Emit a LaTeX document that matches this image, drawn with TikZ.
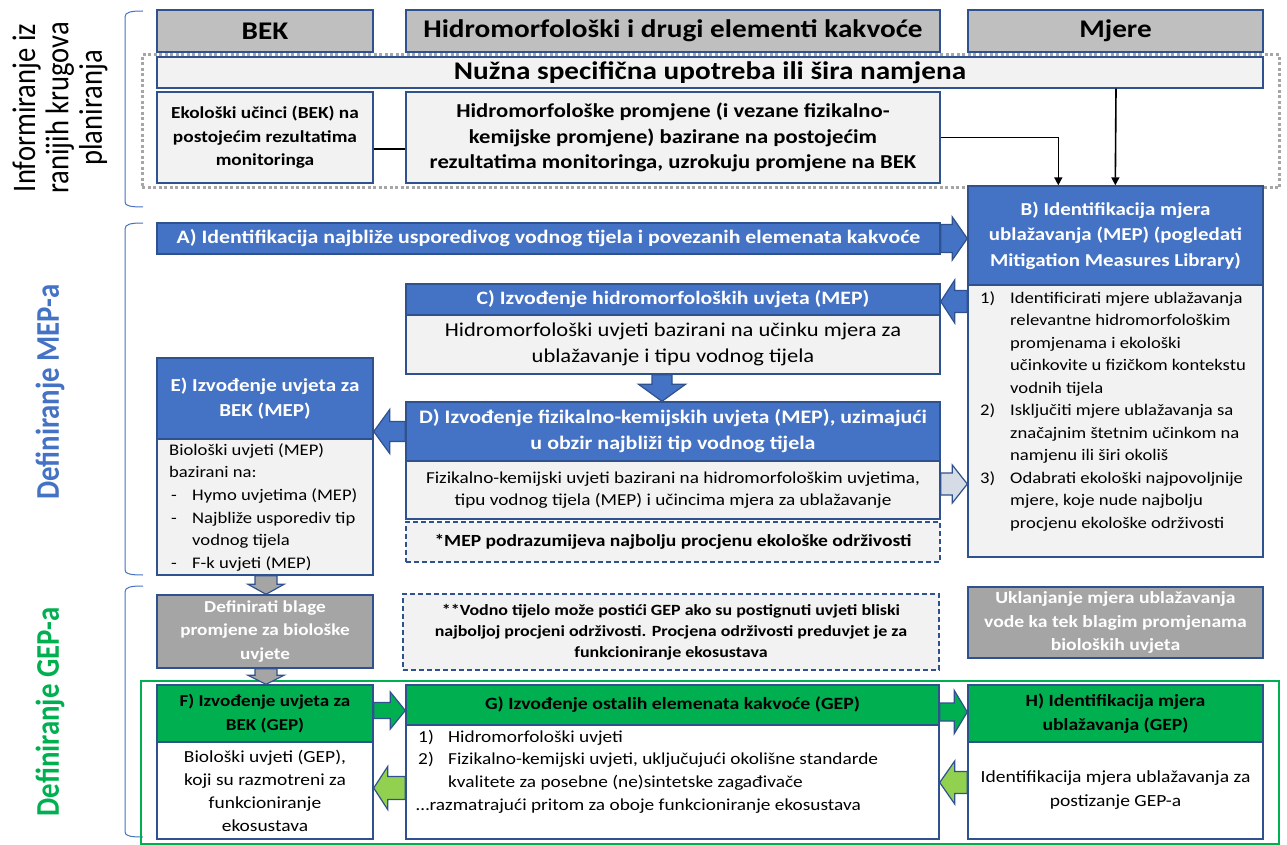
\documentclass[tikz,border=0pt]{standalone}
\usepackage{fontspec}
\setmainfont{Carlito}[FakeStretch=1.15]
\newfontfamily\rotfont{Carlito}
\usetikzlibrary{calc,fit,arrows.meta}
\definecolor{bdr}{HTML}{2F528F}
\definecolor{blu}{HTML}{4472C4}
\definecolor{hgray}{HTML}{BFBFBF}
\definecolor{lgray}{HTML}{F2F2F2}
\definecolor{mgray}{HTML}{A5A5A5}
\definecolor{dgray}{HTML}{A6A6A6}
\definecolor{grn}{HTML}{00B050}
\definecolor{lgrn}{HTML}{92D050}
\definecolor{lblu}{HTML}{D6DCE5}
\newcommand\fz[2]{\fontsize{#1}{#2}\selectfont}
% box from corners: style, x1, y1, x2, y2, name, text
\newcommand\Bx[7]{\node[#1, minimum width={(#4)-(#2)}, minimum height={(#5)-(#3)}] (#6) at ({((#2)+(#4))/2},{((#3)+(#5))/2}) {#7};}
% horizontal block arrow: style, start, end, shaft half, head half, head length
\newcommand\HArr[6]{\path[#1] let \p1=(#2), \p2=(#3), \n1={sign(\x2-\x1)} in
  (\x1,\y1+#4) -- (\x2-\n1*#6,\y1+#4) -- (\x2-\n1*#6,\y1+#5) -- (\x2,\y1)
  -- (\x2-\n1*#6,\y1-#5) -- (\x2-\n1*#6,\y1-#4) -- (\x1,\y1-#4) -- cycle;}
% vertical block arrow
\newcommand\VArr[6]{\path[#1] let \p1=(#2), \p2=(#3), \n1={sign(\y2-\y1)} in
  (\x1+#4,\y1) -- (\x1+#4,\y2-\n1*#6) -- (\x1+#5,\y2-\n1*#6) -- (\x1,\y2)
  -- (\x1-#5,\y2-\n1*#6) -- (\x1-#4,\y2-\n1*#6) -- (\x1-#4,\y1) -- cycle;}
\tikzset{
  bx/.style={draw=bdr, line width=1.4pt, inner sep=0pt, align=center},
  hdr/.style={bx, fill=hgray, font=\fz{25.4}{30}\bfseries},
  lbox/.style={bx, fill=lgray},
  bbox/.style={bx, fill=blu, text=white},
  gbox/.style={bx, fill=mgray, text=white},
  grbox/.style={bx, fill=grn},
  wbox/.style={bx, fill=white},
  dbox/.style={draw=bdr, line width=1.4pt, dash pattern=on 5pt off 3pt, fill=lgray, inner sep=0pt, align=center},
  grp/.style={draw=dgray, line width=3pt, dash pattern=on 3pt off 2.5pt, inner sep=0pt},
  gframe/.style={draw=grn, line width=2pt, inner sep=0pt},
  brk/.style={draw=blu, line width=1pt},
  txt/.style={inner sep=0pt, anchor=base west},
  rlab/.style={rotate=90, yscale=1.15, align=center},
  barr/.style={fill=blu, draw=bdr, line width=1.2pt},
  garr/.style={fill=mgray, draw=bdr, line width=1.2pt},
  lbarr/.style={fill=lblu, draw=bdr, line width=1.2pt},
  grarr/.style={fill=grn, draw=bdr, line width=1.2pt},
  lgarr/.style={fill=lgrn, draw=bdr, line width=1.2pt},
  conn/.style={draw=black, line width=1.6pt},
  arr/.style={conn, -{Triangle[length=8pt,width=8pt]}}
}
\begin{document}
\begin{tikzpicture}[x=1pt,y=-1pt]
\useasboundingbox (0,0) rectangle (1287,845);
% side labels
\node[rlab, font=\rotfont\fz{28.6}{29}] (lInfo) at (60,108) {Informiranje iz\\ranijih krugova\\planiranja};
\node[rlab, font=\rotfont\bfseries\fz{28.8}{30}, text=blu] (lMEP) at (50,392) {Definiranje MEP-a};
\node[rlab, font=\rotfont\bfseries\fz{28.8}{30}, text=grn] (lGEP) at (50,712) {Definiranje GEP-a};
% brackets
\draw[brk] (143,11) .. controls (131,11) and (125,12) .. (125,17) -- (125,202) .. controls (125,206) and (131,207) .. (143,207);
\draw[brk] (143,223) .. controls (131,223) and (125,224) .. (125,229) -- (125,570) .. controls (125,574) and (131,575) .. (143,575);
\draw[brk] (143,586) .. controls (131,586) and (125,587) .. (125,592) -- (125,832) .. controls (125,836) and (131,837) .. (143,837);
% column headers
\Bx{hdr}{157}{10}{373}{52}{hBEK}{BEK}
\Bx{hdr}{406}{10}{940}{52}{hHM}{Hidromorfološki i drugi elementi kakvoće}
\Bx{hdr}{968}{10}{1263}{52}{hMj}{Mjere}
% informing row
\Bx{lbox, font=\fz{25.4}{30}\bfseries}{157}{57}{1263}{88}{nuzna}{Nužna specifična upotreba ili šira namjena}
\Bx{lbox, font=\fz{16.8}{23.5}\bfseries}{157}{92}{373}{183}{eko}{Ekološki učinci (BEK) na\\postojećim rezultatima\\monitoringa}
\Bx{lbox, font=\fz{19.7}{25.5}\bfseries}{406}{92}{940}{183}{hmp}{Hidromorfološke promjene (i vezane fizikalno-\\kemijske promjene) bazirane na postojećim\\rezultatima monitoringa, uzrokuju promjene na BEK}
\node[grp, fit={(142,55) (1279,188)}] (grpTop) {};
% B
\Bx{bbox, font=\fz{18.2}{25.5}\bfseries}{968}{186}{1263}{285}{Bh}{B) Identifikacija mjera\\ublažavanja (MEP) (pogledati\\Mitigation Measures Library)}
\Bx{lbox}{968}{285}{1263}{557}{Bb}{}
\node[txt, font=\fz{16.2}{22.5}] (Btxt) at (980,303) {\begin{tabular}[t]{@{}l@{}}
\makebox[30pt][l]{1)}Identificirati mjere ublažavanja\\
\hspace*{30pt}relevantne hidromorfološkim\\
\hspace*{30pt}promjenama i ekološki\\
\hspace*{30pt}učinkovite u fizičkom kontekstu\\
\hspace*{30pt}vodnih tijela\\
\makebox[30pt][l]{2)}Isključiti mjere ublažavanja sa\\
\hspace*{30pt}značajnim štetnim učinkom na\\
\hspace*{30pt}namjenu ili širi okoliš\\
\makebox[30pt][l]{3)}Odabrati ekološki najpovoljnije\\
\hspace*{30pt}mjere, koje nude najbolju\\
\hspace*{30pt}procjenu ekološke održivosti
\end{tabular}};
% A
\Bx{bbox, font=\fz{19}{22}\bfseries}{157}{223}{940}{254}{A}{A) Identifikacija najbliže usporedivog vodnog tijela i povezanih elemenata kakvoće}
% C
\Bx{bbox, font=\fz{18.9}{22}\bfseries}{406}{284}{940}{315}{Ch}{C) Izvođenje hidromorfoloških uvjeta (MEP)}
\Bx{lbox, font=\fz{19.6}{26}}{406}{315}{940}{374}{Cb}{Hidromorfološki uvjeti bazirani na učinku mjera za\\ublažavanje i tipu vodnog tijela}
% D
\Bx{bbox, font=\fz{19.1}{26}\bfseries}{406}{402}{940}{461}{Dh}{D) Izvođenje fizikalno-kemijskih uvjeta (MEP), uzimajući\\u obzir najbliži tip vodnog tijela}
\Bx{lbox, font=\fz{16.7}{22.5}}{406}{461}{940}{519}{Db}{Fizikalno-kemijski uvjeti bazirani na hidromorfološkim uvjetima,\\tipu vodnog tijela (MEP) i učincima mjera za ublažavanje}
\Bx{dbox, font=\fz{17}{20}\bfseries}{406}{522}{940}{562}{n1}{*MEP podrazumijeva najbolju procjenu ekološke održivosti}
% E
\Bx{bbox, font=\fz{18.3}{25}\bfseries}{157}{358}{373}{439}{Eh}{E) Izvođenje uvjeta za\\BEK (MEP)}
\Bx{lbox}{157}{439}{373}{575}{Eb}{}
\node[txt, font=\fz{16.2}{22.7}] (Etxt) at (169,455) {\begin{tabular}[t]{@{}l@{}}
Biološki uvjeti (MEP)\\
bazirani na:\\
\hspace*{2pt}\makebox[21pt][l]{-}Hymo uvjetima (MEP)\\
\hspace*{2pt}\makebox[21pt][l]{-}Najbliže usporediv tip\\
\hspace*{23pt}vodnog tijela\\
\hspace*{2pt}\makebox[21pt][l]{-}F-k uvjeti (MEP)
\end{tabular}};
% GEP gray boxes and note
\Bx{gbox, font=\fz{16.7}{23.5}\bfseries}{157}{595}{373}{668}{Def}{Definirati blage\\promjene za biološke\\uvjete}
\Bx{dbox, font=\fz{15.6}{21}\bfseries}{403}{594}{939}{670}{n2}{**Vodno tijelo može postići GEP ako su postignuti uvjeti bliski\\najboljoj procjeni održivosti. Procjena održivosti preduvjet je za\\funkcioniranje ekosustava}
\Bx{gbox, font=\fz{17.1}{23.5}\bfseries}{968}{587}{1263}{658}{Ukl}{Uklanjanje mjera ublažavanja\\vode ka tek blagim promjenama\\bioloških uvjeta}
% GEP frame
\node[gframe, fit={(141,681) (1279,844)}] (grpGEP) {};
\Bx{grbox, font=\fz{16.6}{24}\bfseries}{157}{685}{373}{742}{Fh}{F) Izvođenje uvjeta za\\BEK (GEP)}
\Bx{wbox, font=\fz{16.9}{23}}{157}{742}{373}{839}{Fb}{Biološki uvjeti (GEP),\\koji su razmotreni za\\funkcioniranje\\ekosustava}
\Bx{grbox, font=\fz{17.2}{22}\bfseries}{406}{685}{939}{725}{Gh}{G) Izvođenje ostalih elemenata kakvoće (GEP)}
\Bx{wbox}{406}{725}{939}{839}{Gb}{}
\node[txt, font=\fz{16.8}{22.7}] (Gtxt) at (418,742) {\begin{tabular}[t]{@{}l@{}}
\makebox[30pt][l]{1)}Hidromorfološki uvjeti\\
\makebox[30pt][l]{2)}Fizikalno-kemijski uvjeti, uključujući okolišne standarde\\
\hspace*{30pt}kvalitete za posebne (ne)sintetske zagađivače\\
\hspace*{-2pt}…razmatrajući pritom za oboje funkcioniranje ekosustava
\end{tabular}};
\Bx{grbox, font=\fz{17.1}{24}\bfseries}{968}{685}{1263}{742}{Hh}{H) Identifikacija mjera\\ublažavanja (GEP)}
\Bx{wbox, font=\fz{17}{24}}{968}{742}{1263}{839}{Hb}{Identifikacija mjera ublažavanja za\\postizanje GEP-a}
% line connectors
\draw[conn] ($(eko.east)+(0,11.5)$) -- ($(hmp.west)+(0,11.5)$);
\draw[arr] (hmp.east) -| ($(Bh.north west)+(91,0)$);
\draw[arr] ($(nuzna.south)+(406,0)$) -- ($(Bh.north west)+(148,0)$);
% block arrows
\HArr{barr}{A.east}{Bh.west}{14pt}{21.5pt}{15pt}
\HArr{barr}{$(Bh.west|-Ch.east)+(0,2)$}{Ch.east}{11pt}{21.5pt}{14pt}
\VArr{barr}{$(Cb.south)+(-11,0)$}{$(Dh.north)+(-11,0)$}{10pt}{23.5pt}{17pt}
\HArr{barr}{Dh.west}{Eh.east}{10pt}{22pt}{16pt}
\HArr{lbarr}{$(Db.east)+(0,-6)$}{Bb.west}{11pt}{19pt}{15pt}
\VArr{garr}{$(Eb.south)+(1,0)$}{$(Def.north)+(1,0)$}{11pt}{18pt}{10pt}
\VArr{garr}{$(Def.south)+(1,0)$}{$(Fh.north)+(1,0)$}{11pt}{18pt}{9pt}
\HArr{grarr}{$(Fh.east)+(0,-3)$}{Gh.west}{8pt}{18.5pt}{15pt}
\HArr{grarr}{$(Gh.east|-Hh.west)+(0,-1.5)$}{Hh.west}{9pt}{21.5pt}{13pt}
\HArr{lgarr}{$(Hb.west)+(0,-8)$}{Gb.east}{11pt}{21.5pt}{15pt}
\HArr{lgarr}{$(Gb.west)+(0,6)$}{Fb.east}{11.5pt}{21.5pt}{14pt}
\end{tikzpicture}
\end{document}
